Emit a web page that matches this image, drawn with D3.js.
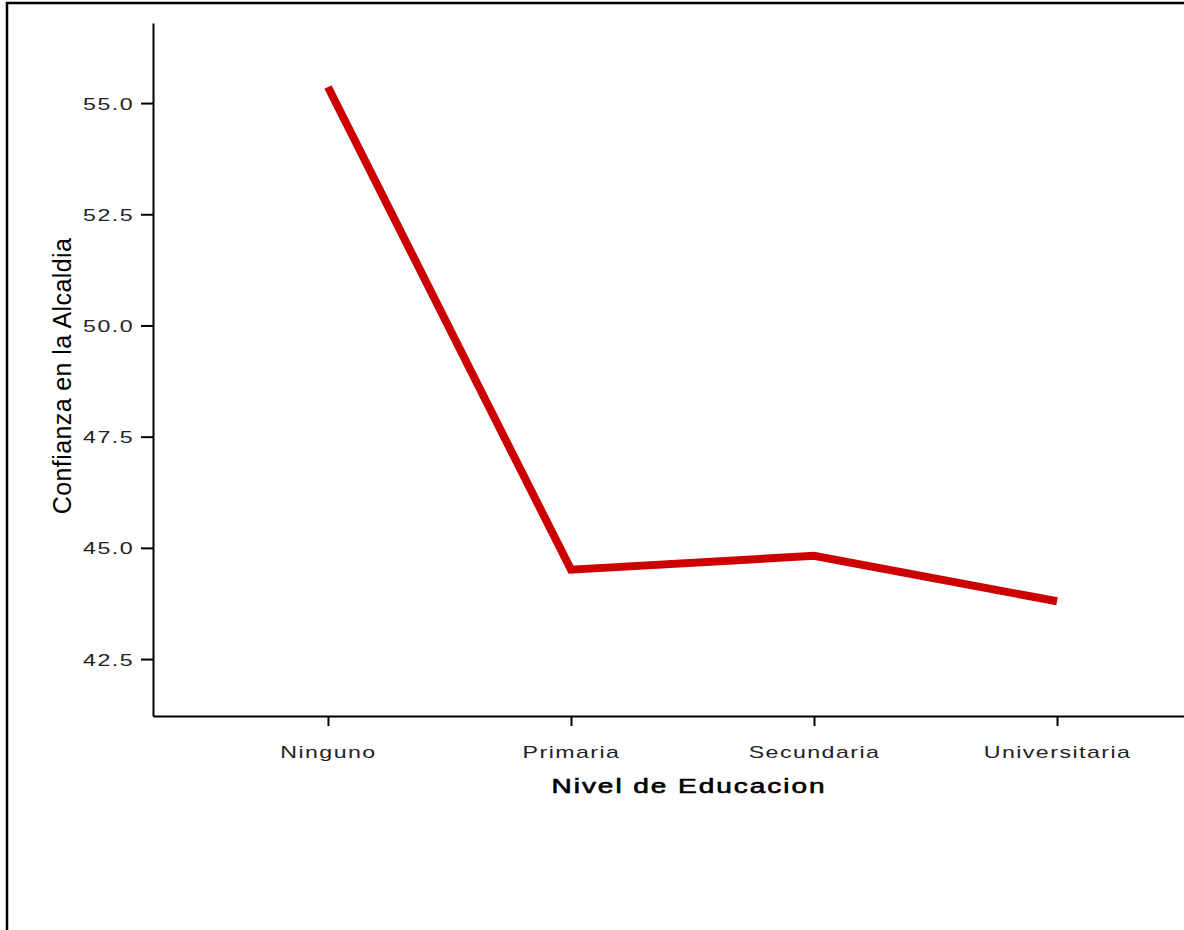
<!DOCTYPE html>
<html><head><meta charset="utf-8">
<script src="https://cdn.jsdelivr.net/npm/d3@7"></script>
<style>
body{margin:0;background:#fff;}
svg{display:block;}
</style></head>
<body>
<svg id="c" width="1184" height="930"></svg>
<script>
const categories = ["Ninguno","Primaria","Secundaria","Universitaria"];
const values = [55.36, 44.51, 44.82, 43.80];
const yTicks = [42.5, 45.0, 47.5, 50.0, 52.5, 55.0];
const xTitle = "Nivel de Educacion";
const yTitle = "Confianza en la Alcaldia";

const svg = d3.select("#c");
svg.append("rect").attr("x",7).attr("y",3).attr("width",1300).attr("height",1000)
  .attr("fill","none").attr("stroke","#000").attr("stroke-width",2.5);

const x = d3.scalePoint().domain(categories).range([153,1232]).padding(0.72);
const y = d3.scaleLinear().domain([41.22,56.8]).range([716,23]);

const font = "'Liberation Sans', Arial, sans-serif";

const gx = svg.append("g").attr("transform","translate(0,716)")
  .call(d3.axisBottom(x).tickSizeInner(10).tickSizeOuter(0).tickPadding(0));
gx.select(".domain").attr("stroke-width",2);
gx.selectAll(".tick line").attr("stroke-width",2);
gx.selectAll(".tick text").text(null);
gx.selectAll(".tick").append("text")
  .attr("transform","translate(0,42) scale(1.45,1)")
  .attr("text-anchor","middle").attr("fill","#222")
  .style("font-family",font).style("font-size","16px").style("letter-spacing","1px")
  .text(d=>d);

const gy = svg.append("g").attr("transform","translate(153,0)")
  .call(d3.axisLeft(y).tickValues(yTicks).tickFormat(d3.format(".1f")).tickSizeInner(12).tickSizeOuter(0));
gy.select(".domain").attr("stroke-width",2);
gy.selectAll(".tick line").attr("stroke-width",2);
gy.selectAll(".tick text").remove();
gy.selectAll(".tick").append("text")
  .attr("transform","translate(-19,6) scale(1.45,1)")
  .attr("text-anchor","end").attr("fill","#222")
  .style("font-family",font).style("font-size","16px").style("letter-spacing","1px")
  .text(d=>d3.format(".1f")(d));

svg.append("text")
  .attr("transform","translate(689,793) scale(1.4,1)")
  .attr("text-anchor","middle").attr("fill","#000").attr("stroke","#000").attr("stroke-width",0.6)
  .style("font-family",font).style("font-size","20px").style("letter-spacing","1.4px")
  .text(xTitle);

svg.append("text")
  .attr("transform","translate(71,376) rotate(-90)")
  .attr("text-anchor","middle").attr("fill","#000")
  .style("font-family",font).style("font-size","25px").style("letter-spacing","0.4px")
  .text(yTitle);

const line = d3.line().x((d,i)=>x(categories[i])).y(d=>y(d));
svg.append("path").datum(values).attr("d",line)
  .attr("fill","none").attr("stroke","#cc0000").attr("stroke-width",8)
  .attr("stroke-linejoin","miter").attr("stroke-linecap","butt");
</script>
</body></html>
